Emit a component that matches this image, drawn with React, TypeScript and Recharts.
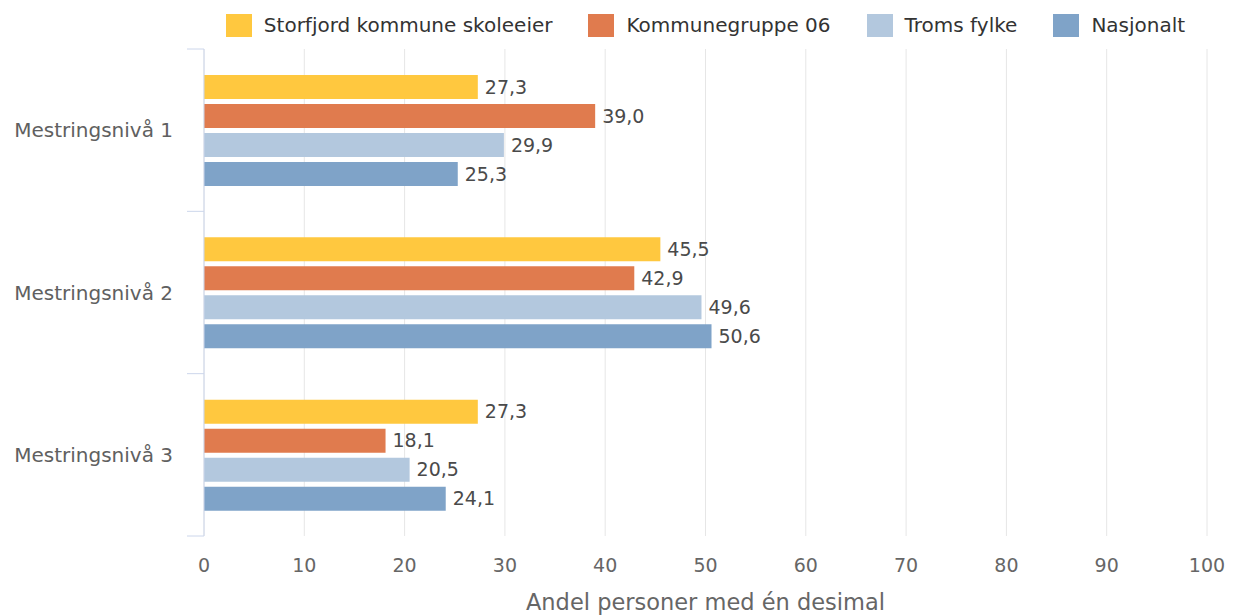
import React from "react";
import {
  BarChart,
  Bar,
  XAxis,
  YAxis,
  CartesianGrid,
  Legend,
  LabelList,
} from "recharts";

const categories = ["Mestringsnivå 1", "Mestringsnivå 2", "Mestringsnivå 3"];
const storfjord = [27.3, 45.5, 27.3];
const kommunegruppe = [39.0, 42.9, 18.1];
const troms = [29.9, 49.6, 20.5];
const nasjonalt = [25.3, 50.6, 24.1];
const xTicks = [0, 10, 20, 30, 40, 50, 60, 70, 80, 90, 100];

const seriesInfo = [
  { key: "storfjord", name: "Storfjord kommune skoleeier", color: "#FFC83F" },
  { key: "kommunegruppe", name: "Kommunegruppe 06", color: "#E07B4E" },
  { key: "troms", name: "Troms fylke", color: "#B3C8DE" },
  { key: "nasjonalt", name: "Nasjonalt", color: "#7FA3C8" },
];

const data = categories.map((name, i) => ({
  name,
  storfjord: storfjord[i],
  kommunegruppe: kommunegruppe[i],
  troms: troms[i],
  nasjonalt: nasjonalt[i],
}));

const WIDTH = 1233;
const HEIGHT = 616;
const MARGIN = { top: 25, right: 26, left: 0, bottom: 0 };
const Y_AXIS_WIDTH = 204;
const PLOT_TOP = 49;
const X_AXIS_HEIGHT = 80;
const PLOT_BOTTOM = HEIGHT - X_AXIS_HEIGHT;
const HALF_BAND = (PLOT_BOTTOM - PLOT_TOP) / categories.length / 2;
const LABEL_GAP = 31;
const TICK_LEN = 17;

const formatComma = (v: number) => v.toFixed(1).replace(".", ",");

// category axis: labels at the band centre, tick marks on the band boundaries
const CategoryTick = (props: any) => {
  const { x, y, payload, index } = props;
  const axisX = x + LABEL_GAP;
  const last = index === categories.length - 1;
  return (
    <g>
      <line x1={axisX - TICK_LEN} x2={axisX} y1={y - HALF_BAND} y2={y - HALF_BAND} stroke="#ccd6eb" />
      {last && (
        <line x1={axisX - TICK_LEN} x2={axisX} y1={y + HALF_BAND} y2={y + HALF_BAND} stroke="#ccd6eb" />
      )}
      <text x={x} y={y} dy="0.35em" textAnchor="end" fill="#606060" fontSize={20}>
        {payload.value}
      </text>
    </g>
  );
};

// legend kept in series order (recharts sorts its payload by name), centred over the plot
const LegendContent = () => (
  <div style={{ display: "flex", justifyContent: "center", height: 24, paddingLeft: Y_AXIS_WIDTH }}>
    {seriesInfo.map((s, i) => (
      <div
        key={s.key}
        style={{ display: "flex", alignItems: "center", marginLeft: i === 0 ? 0 : 36 }}
      >
        <span
          style={{ display: "inline-block", width: 26, height: 23, background: s.color, marginRight: 12 }}
        />
        <span style={{ fontSize: 20, color: "#333", lineHeight: "24px" }}>{s.name}</span>
      </div>
    ))}
  </div>
);

export default function App() {
  return (
    <div style={{ position: "absolute", left: 0, top: 0, fontFamily: "'DejaVu Sans', Verdana, sans-serif" }}>
      <BarChart
        width={WIDTH}
        height={HEIGHT}
        data={data}
        layout="vertical"
        margin={MARGIN}
        barSize={24}
        barGap={5}
      >
        <CartesianGrid horizontal={false} stroke="#e6e6e6" />
        <XAxis
          type="number"
          domain={[0, 100]}
          ticks={xTicks}
          axisLine={false}
          tickLine={false}
          tickSize={8}
          tickMargin={15}
          height={X_AXIS_HEIGHT}
          tick={{ fill: "#666", fontSize: 19 }}
          label={{ value: "Andel personer med én desimal", position: "insideBottom", offset: 6, fill: "#666", fontSize: 22.5 }}
        />
        <YAxis
          type="category"
          dataKey="name"
          width={Y_AXIS_WIDTH}
          axisLine={{ stroke: "#ccd6eb" }}
          tickLine={false}
          tickSize={0}
          tickMargin={LABEL_GAP}
          tick={<CategoryTick />}
        />
        <Legend verticalAlign="top" wrapperStyle={{ top: 13 }} content={<LegendContent />} />
        {seriesInfo.map((s) => (
          <Bar key={s.key} dataKey={s.key} name={s.name} fill={s.color} isAnimationActive={false}>
            <LabelList
              dataKey={s.key}
              position="right"
              offset={7}
              fill="#4a4a4a"
              fontSize={19}
              formatter={(v: any) => formatComma(Number(v))}
            />
          </Bar>
        ))}
      </BarChart>
    </div>
  );
}
